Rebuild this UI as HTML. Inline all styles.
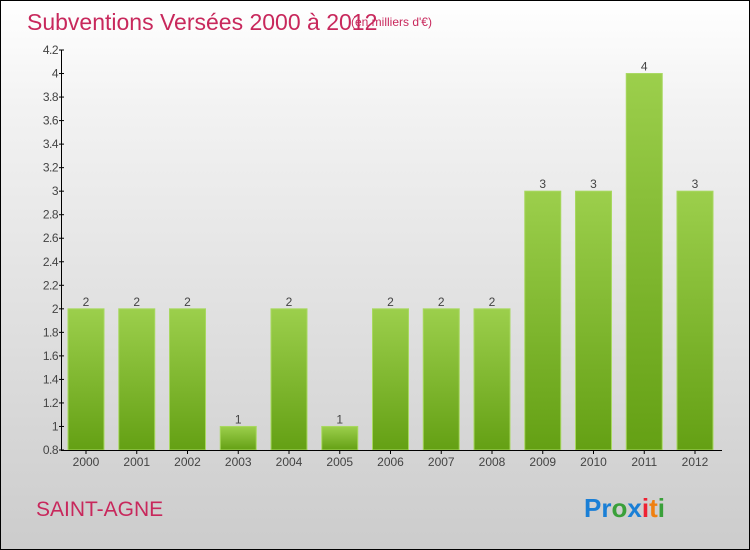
<!DOCTYPE html>
<html><head><meta charset="utf-8"><style>
body{margin:0}
#c{position:relative;width:748px;height:548px;border:1px solid #000;background:linear-gradient(#fff,#f2f2f2 20%,#ccc);font-family:"Liberation Sans",sans-serif;overflow:hidden}
</style></head><body>
<div id="c">
<svg width="748" height="548" style="position:absolute;left:0;top:0" id="svg">
<defs><linearGradient id="g" x1="0" y1="0" x2="0" y2="1"><stop offset="0" stop-color="#9ccf4c"/><stop offset="1" stop-color="#64a014"/></linearGradient></defs>
<text x="26" y="29" font-size="23" fill="#c8285c">Subventions Versées 2000 à 2012</text>
<text x="350" y="25" font-size="12" fill="#c8285c">(en milliers d'€)</text>
<text x="35" y="515" font-size="21" fill="#c8285c">SAINT-AGNE</text>
<g font-size="26" font-weight="bold"><text x="583" y="516"><tspan fill="#1a7fd6">Pr</tspan><tspan fill="#3aa03a">o</tspan><tspan fill="#1a7fd6">x</tspan><tspan fill="#e23">i</tspan><tspan fill="#f08010">t</tspan><tspan fill="#3aa03a">i</tspan></text></g>
<g id="plot"></g>
</svg>
</div>
<script>
const categories=["2000","2001","2002","2003","2004","2005","2006","2007","2008","2009","2010","2011","2012"];
const values=[2,2,2,1,2,1,2,2,2,3,3,4,3];
const yTicks=[0.8,1,1.2,1.4,1.6,1.8,2,2.2,2.4,2.6,2.8,3,3.2,3.4,3.6,3.8,4,4.2];
const ns="http://www.w3.org/2000/svg";
const plot=document.getElementById('plot');
const y=v=>449-(v-0.8)*(400/3.4);
const x=i=>85+i*50.75;
function mk(t,a){const e=document.createElementNS(ns,t);for(const k in a)e.setAttribute(k,a[k]);plot.appendChild(e);return e;}
values.forEach((v,i)=>{
 const r=mk('rect',{x:x(i)-18,y:y(v),width:36,height:y(0.8)-y(v),fill:'url(#g)',stroke:'#a8d860','stroke-width':1});
 
 
 const t=mk('text',{x:x(i),y:y(v)-3,'font-size':12,fill:'#444','text-anchor':'middle'});t.textContent=v;
 
 
 const c=mk('text',{x:x(i),y:465,'font-size':12,fill:'#444','text-anchor':'middle'});c.textContent=categories[i];
 
 
 mk('line',{x1:x(i),x2:x(i),y1:449,y2:453,stroke:'#000'});
});
yTicks.forEach(v=>{
 const t=mk('text',{x:57,y:y(v)+4,'font-size':12,fill:'#444','text-anchor':'end','letter-spacing':'-0.5'});t.textContent=v;
 
 
 mk('line',{x1:58,x2:63,y1:y(v),y2:y(v),stroke:'#000'});
});
const ya=mk('line',{x1:60.5,x2:60.5,y1:y(4.2),y2:450,stroke:'#000'});


const xa=mk('line',{x1:60,x2:721,y1:449.5,y2:449.5,stroke:'#000'});


</script>
</body></html>
